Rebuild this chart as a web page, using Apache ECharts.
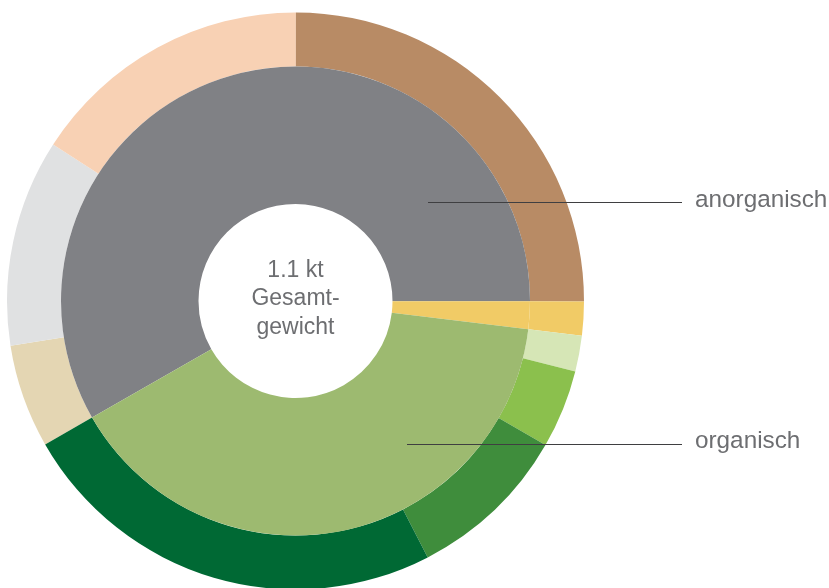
<!DOCTYPE html>
<html>
<head>
<meta charset="utf-8">
<script src="https://cdn.jsdelivr.net/npm/echarts@6/dist/echarts.min.js"></script>
<style>
html,body{margin:0;padding:0;background:#fff;}
#chart{width:829px;height:588px;}
</style>
</head>
<body>
<div id="chart"></div>
<script>
// Inner ring (main groups), share in %
const innerNames = ['anorganisch', 'sonstige', 'organisch'];
const innerValues = [58.3, 1.9, 39.8];
// Outer ring (sub groups), share in %
const outerNames = ['anorganisch A', 'anorganisch B', 'anorganisch C', 'anorganisch D', 'sonstige', 'organisch A', 'organisch B', 'organisch C', 'organisch D'];
const outerValues = [5.8, 11.6, 15.9, 25.0, 1.9, 2.0, 4.4, 9.1, 24.3];
const centerLines = ['1.1 kt', 'Gesamt-', 'gewicht'];

const innerColors = ['#808185', '#F1CB66', '#9DBA70'];
const outerColors = ['#E4D6B3', '#E0E1E2', '#F8D1B4', '#B88B65', '#F1CB66', '#D6E6B6', '#8BC04D', '#3F8D3C', '#006934'];

const FONT = '"Liberation Sans", Arial, sans-serif';
const TXT = '#6D6E71';
const LINE = '#3F3F41';

const chart = echarts.init(document.getElementById('chart'));
const cx = 295.5, cy = 301;

chart.setOption({
  animation: false,
  backgroundColor: '#ffffff',
  series: [
    {
      type: 'pie',
      z: 5,
      center: [cx, cy],
      radius: [97, 234.5],
      startAngle: 209.8,
      clockwise: true,
      silent: true,
      avoidLabelOverlap: false,
      itemStyle: { borderWidth: 0 },
      label: {
        show: true,
        position: 'outside',
        color: TXT,
        fontFamily: FONT,
        fontSize: 24.3,
        formatter: '{b}'
      },
      labelLine: { show: false },
      labelLayout: function (p) {
        if (p.dataIndex === 0) {
          return { x: 695, y: 200.5, align: 'left', verticalAlign: 'middle' };
        }
        if (p.dataIndex === 2) {
          return { x: 695, y: 441.5, align: 'left', verticalAlign: 'middle' };
        }
        return {};
      },
      data: innerNames.map((n, i) => ({
        name: n,
        value: innerValues[i],
        itemStyle: { color: innerColors[i] },
        label: { show: i !== 1 }
      }))
    },
    {
      type: 'pie',
      z: 2,
      center: [cx, cy],
      radius: [234.5, 288.5],
      startAngle: 209.8,
      clockwise: true,
      silent: true,
      label: { show: false },
      labelLine: { show: false },
      itemStyle: { borderWidth: 0 },
      data: outerNames.map((n, i) => ({
        name: n,
        value: outerValues[i],
        itemStyle: { color: outerColors[i] }
      }))
    }
  ],
  graphic: [
    {
      type: 'line', z: 100, silent: true,
      shape: { x1: 428, y1: 202.5, x2: 682, y2: 202.5 },
      style: { stroke: LINE, lineWidth: 1.2 }
    },
    {
      type: 'line', z: 100, silent: true,
      shape: { x1: 407, y1: 444.5, x2: 682, y2: 444.5 },
      style: { stroke: LINE, lineWidth: 1.2 }
    },
    {
      type: 'text', z: 100,
      x: cx,
      y: 299,
      style: {
        text: centerLines.join('\n'),
        fill: TXT,
        font: '23px ' + FONT,
        lineHeight: 28.5,
        align: 'center',
        verticalAlign: 'middle'
      }
    }
  ]
});
</script>
</body>
</html>
